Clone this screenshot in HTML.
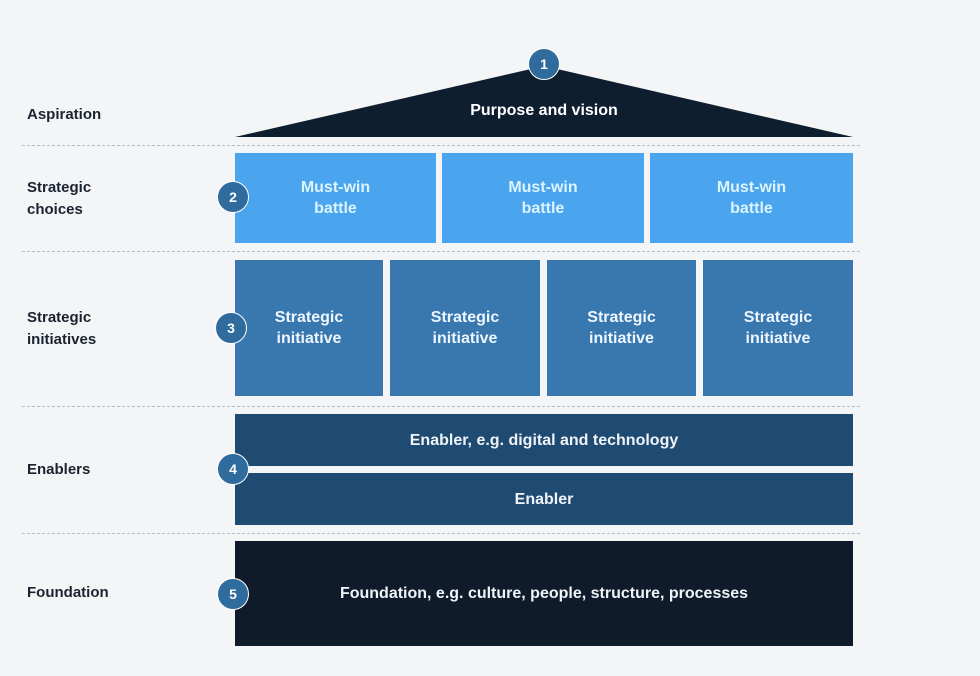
<!DOCTYPE html>
<html><head><style>
body{margin:0;width:980px;height:676px;background:#f4f5f6;font-family:"Liberation Sans",sans-serif;position:relative;overflow:hidden}
.a{position:absolute}
.lbl{position:absolute;left:27px;font-size:15px;color:#1b2330;line-height:22px;font-weight:bold}
.dash{position:absolute;left:22px;width:838px;border-top:1.5px dashed #b8bcc2}
.bx{position:absolute;display:flex;align-items:center;justify-content:center;text-align:center;font-size:16px;font-weight:bold;line-height:21px}
.mw{background:#4aa4ee;color:#dcf4ff;top:153px;height:90px}
.si{background:#3878af;color:#eef6ff;top:260px;height:136px}
.c{position:absolute;width:30px;height:30px;border-radius:50%;background:#2f6b9c;border:1.5px solid #fff;color:#fff;font-size:14px;font-weight:bold;display:flex;align-items:center;justify-content:center;transform:translate(-50%,-50%)}
</style></head><body>
<svg class="a" style="left:0;top:0" width="980" height="676"><polygon points="235,137 853,137 544,66" fill="#0f1e2e"/></svg>
<div class="bx" style="left:235px;top:95px;width:618px;height:30px;color:#fff">Purpose and vision</div>
<div class="dash" style="top:145px"></div>
<div class="dash" style="top:251px"></div>
<div class="dash" style="top:406px"></div>
<div class="dash" style="top:533px"></div>
<div class="lbl" style="top:104px">Aspiration</div>
<div class="lbl" style="top:177px">Strategic<br>choices</div>
<div class="lbl" style="top:307px">Strategic<br>initiatives</div>
<div class="lbl" style="top:459px">Enablers</div>
<div class="lbl" style="top:582px">Foundation</div>
<div class="bx mw" style="left:235px;width:201px">Must-win<br>battle</div>
<div class="bx mw" style="left:442px;width:202px">Must-win<br>battle</div>
<div class="bx mw" style="left:650px;width:203px">Must-win<br>battle</div>
<div class="bx si" style="left:235px;width:148px">Strategic<br>initiative</div>
<div class="bx si" style="left:390px;width:150px">Strategic<br>initiative</div>
<div class="bx si" style="left:547px;width:149px">Strategic<br>initiative</div>
<div class="bx si" style="left:703px;width:150px">Strategic<br>initiative</div>
<div class="bx" style="left:235px;top:414px;width:618px;height:52px;background:#1f4a72;color:#f0f4f8">Enabler, e.g. digital and technology</div>
<div class="bx" style="left:235px;top:473px;width:618px;height:52px;background:#1f4a72;color:#f0f4f8">Enabler</div>
<div class="bx" style="left:235px;top:541px;width:618px;height:105px;background:#0f1b2a;color:#f0f4f8">Foundation, e.g. culture, people, structure, processes</div>
<div class="c" style="left:544px;top:64px">1</div>
<div class="c" style="left:233px;top:197px">2</div>
<div class="c" style="left:231px;top:328px">3</div>
<div class="c" style="left:233px;top:469px">4</div>
<div class="c" style="left:233px;top:594px">5</div>
</body></html>
